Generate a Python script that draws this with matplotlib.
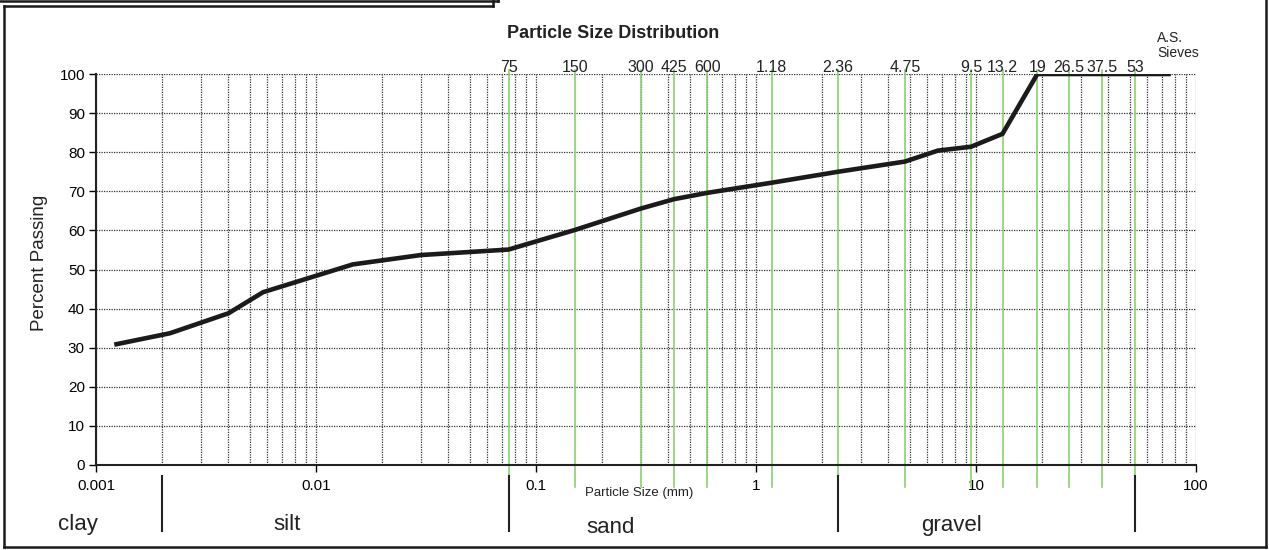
import numpy as np
import matplotlib
matplotlib.use("Agg")
import matplotlib.pyplot as plt
from matplotlib.lines import Line2D
from matplotlib.ticker import FixedLocator, NullFormatter

plt.rcParams['font.family'] = ['Liberation Sans', 'DejaVu Sans']

# data
size_mm = [0.00124, 0.00217, 0.0040, 0.00575, 0.0147, 0.030, 0.075, 0.15, 0.30,
           0.425, 0.60, 1.18, 2.36, 4.75, 6.7, 9.5, 13.2, 19.0, 75.0]
passing = [30.9, 33.7, 38.8, 44.2, 51.3, 53.7, 55.1, 60.1, 65.6,
           68.0, 69.6, 72.2, 75.0, 77.6, 80.4, 81.4, 84.7, 100.0, 100.0]

sieve_mm = [0.075, 0.15, 0.3, 0.425, 0.6, 1.18, 2.36, 4.75, 9.5, 13.2, 19, 26.5, 37.5, 53]
sieve_labels = ['75', '150', '300', '425', '600', '1.18', '2.36', '4.75', '9.5',
                '13.2', '19', '26.5', '37.5', '53']

boundaries_mm = [0.002, 0.075, 2.36, 53]
soil_names = ['clay', 'silt', 'sand', 'gravel']

x_ticks = [0.001, 0.01, 0.1, 1, 10, 100]
x_tick_labels = ['0.001', '0.01', '0.1', '1', '10', '100']
y_ticks = list(range(0, 101, 10))

W, H = 1269, 550
fig = plt.figure(figsize=(W / 100, H / 100), dpi=100)
ax = fig.add_axes([96 / W, 85 / H, 1100 / W, 391 / H])


def px(x, y):
    return x / W, 1 - y / H


ax.set_xscale('log')
ax.set_xlim(0.001, 100)
ax.set_ylim(0, 100)

# grid
minor = [m * 10.0 ** e for e in range(-3, 2) for m in range(2, 10)]
ax.xaxis.set_major_locator(FixedLocator(x_ticks))
ax.xaxis.set_minor_locator(FixedLocator(minor))
ax.xaxis.set_minor_formatter(NullFormatter())
ax.set_xticklabels(x_tick_labels)
ax.set_yticks(y_ticks)
grid_style = dict(color='#333333', linestyle=(0, (1, 1)), linewidth=0.9)
ax.grid(True, which='major', axis='both', **grid_style)
ax.grid(True, which='minor', axis='x', **grid_style)

ax.tick_params(axis='x', which='major', direction='out', length=5, width=1, pad=5, labelsize=11)
ax.tick_params(axis='x', which='minor', length=0)
ax.tick_params(axis='y', direction='out', length=5, width=1, pad=3, labelsize=11)

for s in ['top', 'right']:
    ax.spines[s].set_visible(False)
for s in ['left', 'bottom']:
    ax.spines[s].set_linewidth(1.5)
    ax.spines[s].set_color('#222222')

# sieve lines
xt = ax.get_xaxis_transform()
for s, lab in zip(sieve_mm, sieve_labels):
    ax.plot([s, s], [-0.056, 1.01], transform=xt, color='#8ad172', lw=1.2,
            clip_on=False, zorder=2)
    ax.text(s, 1.004, lab, transform=xt, ha='center', va='baseline', fontsize=11.5,
            color='#222222')

# grading curve
ax.plot(size_mm, passing, color='#1c1a1a', lw=3.3, solid_joinstyle='miter', zorder=4)

# soil class separators
for b in boundaries_mm:
    ax.plot([b, b], [-0.028, -0.17], transform=xt, color='#222222', lw=1.5, clip_on=False)

name_pos = [(78, 530), (287, 530), (611, 533), (952, 531)]
for name, (x, y) in zip(soil_names, name_pos):
    fig.text(*px(x, y), name, ha='center', va='baseline', fontsize=16, color='#222222')

fig.text(*px(613, 33), 'Particle Size Distribution', ha='center', va='center',
         fontsize=13, fontweight='bold', color='#222222')
fig.text(*px(639, 493), 'Particle Size (mm)', ha='center', va='center', fontsize=9.5,
         color='#222222')
fig.text(*px(40, 263), 'Percent Passing', ha='center', va='center', rotation=90,
         fontsize=13.5, color='#222222')
fig.text(*px(1157, 38), 'A.S.', ha='left', va='center', fontsize=10, color='#222222')
fig.text(*px(1157, 53), 'Sieves', ha='left', va='center', fontsize=10, color='#222222')

# outer frame and clipped box at top-left
frame = [((4, 6), (4, 547)), ((4, 547), (1266, 547)), ((1266, 547), (1266, 0)),
         ((0, 1), (498, 1)), ((498, 1), (498, 0)),
         ((4, 5.5), (493, 5.5)), ((493, 5.5), (493, 0))]
for (x0, y0), (x1, y1) in frame:
    a, b = px(x0, y0), px(x1, y1)
    fig.add_artist(Line2D([a[0], b[0]], [a[1], b[1]], transform=fig.transFigure,
                          color='#1c1a1a', lw=1.8))

fig.savefig('out.png', dpi=100)
